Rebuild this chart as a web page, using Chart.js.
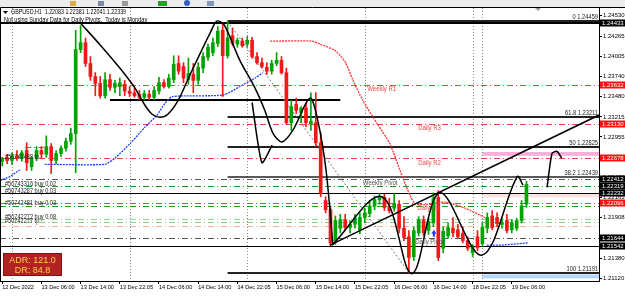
<!DOCTYPE html>
<html>
<head>
<meta charset="utf-8">
<script src="https://cdn.jsdelivr.net/npm/chart.js@4.4.0/dist/chart.umd.min.js"></script>
<style>
html, body { margin: 0; padding: 0; background: #fff; }
canvas { display: block; }
</style>
</head>
<body>
<canvas id="chart" width="625" height="296"></canvas>
<script>
// GBPUSD H1, oldest bar first (bar 0 = 12 Dec 22:05)
const opens = [1.2264,1.2268,1.2265,1.2271,1.2268,1.2278,1.2257,1.2268,1.2278,1.2273,1.2283,1.2265,1.2274,1.2281,1.2290,1.2300,
  1.2409,1.2418,1.2391,1.2374,1.2365,1.2349,1.2370,1.2360,1.2361,1.2364,1.2355,1.2353,1.2351,1.2347,1.2351,1.2347,1.2355,1.2366,1.2361,1.2370,1.2391,1.2387,1.2370,1.2377,1.2369,1.2385,1.2399,1.2405,1.2417,1.2434,1.2401,
  1.2427,1.2416,1.2420,1.2416,1.2421,1.2400,1.2392,1.2386,1.2381,1.2391,1.2395,1.2379,1.2314,1.2338,1.2327,1.2333,1.2312,1.2314,1.2288,1.2213,1.2201,
  1.2161,1.2177,1.2188,1.2178,1.2182,1.2175,1.2191,1.2196,1.2206,1.2214,1.2217,1.2205,1.2203,1.2208,1.2177,1.2166,1.2140,1.2171,1.2188,1.2174,1.2184,1.2217,
  1.2151,1.2167,1.2177,1.2175,1.2170,1.2161,1.2145,1.2166,1.2157,1.2177,1.2193,1.2191,1.2182,1.2187,1.2175,1.2177,1.2187,1.22083];
const highs = [1.2269,1.2273,1.2275,1.2278,1.2278,1.2288,1.2270,1.2283,1.2283,1.2297,1.2287,1.2278,1.2284,1.2294,1.2307,1.2434,
  1.2440,1.2424,1.2400,1.2379,1.2374,1.2379,1.2377,1.2369,1.2372,1.2369,1.2361,1.2359,1.2356,1.2356,1.2356,1.2361,1.2373,1.2370,1.2377,1.2401,1.2401,1.2392,1.2398,1.2391,1.2392,1.2405,1.2416,1.2424,1.2439,1.2444,1.24459,
  1.2437,1.2424,1.2424,1.2426,1.2425,1.2405,1.2398,1.2392,1.2395,1.2405,1.2400,1.2385,1.2343,1.2346,1.2335,1.2340,1.2353,1.2353,1.2301,1.2218,1.2206,
  1.2193,1.2195,1.2195,1.2187,1.2195,1.2197,1.2203,1.2213,1.2219,1.2222,1.2221,1.2216,1.2222,1.2213,1.2192,1.2174,1.2179,1.2192,1.2193,1.2190,1.2223,1.2226,
  1.2179,1.2184,1.2191,1.2182,1.2179,1.2166,1.2156,1.2174,1.2184,1.2197,1.2200,1.2197,1.2190,1.2195,1.2188,1.2190,1.2213,1.22381];
const lows = [1.2258,1.2261,1.2260,1.2265,1.2264,1.2252,1.2252,1.2265,1.2268,1.2269,1.2248,1.2261,1.2270,1.2277,1.2286,1.2249,
  1.2405,1.2387,1.2369,1.2349,1.2346,1.2346,1.2356,1.2353,1.2349,1.2349,1.2348,1.2347,1.2344,1.2344,1.2344,1.2344,1.2351,1.2359,1.2359,1.2366,1.2377,1.2366,1.2364,1.2353,1.2364,1.2379,1.2395,1.2401,1.2413,1.2348,1.2398,
  1.2414,1.2412,1.2412,1.2413,1.2398,1.2390,1.2385,1.2377,1.2377,1.2388,1.2377,1.2312,1.2304,1.2326,1.2314,1.2309,1.2304,1.2283,1.2218,1.2197,1.21542,
  1.2156,1.2171,1.2174,1.2171,1.2177,1.2170,1.2184,1.2192,1.2201,1.2208,1.2200,1.2197,1.2199,1.2171,1.2161,1.21191,1.2135,1.2167,1.2167,1.2169,1.2179,1.2135,
  1.2145,1.2164,1.2166,1.2164,1.2158,1.2148,1.2140,1.2148,1.2153,1.2171,1.2175,1.2179,1.2177,1.2171,1.2171,1.2174,1.2184,1.22041];
const closes = [1.2268,1.2265,1.2271,1.2269,1.2275,1.2262,1.2268,1.2278,1.2273,1.2283,1.2265,1.2274,1.2281,1.2290,1.2300,1.2409,
  1.2418,1.2391,1.2374,1.2365,1.2349,1.2370,1.2360,1.2365,1.2366,1.2355,1.2352,1.2349,1.2347,1.2352,1.2347,1.2356,1.2366,1.2361,1.2372,1.2390,1.2381,1.2372,1.2378,1.2369,1.2386,1.2400,1.2412,1.2418,1.2433,1.2401,1.2424,
  1.2417,1.2421,1.2414,1.2421,1.2400,1.2392,1.2387,1.2381,1.2391,1.2395,1.2379,1.2314,1.2335,1.2330,1.2333,1.2314,1.2316,1.2288,1.2222,1.2201,1.2158,
  1.2187,1.2188,1.2178,1.2182,1.2190,1.2191,1.2197,1.2206,1.2214,1.2218,1.2204,1.2200,1.2209,1.2177,1.2165,1.2139,1.2174,1.2188,1.2171,1.2186,1.2216,1.2139,
  1.2173,1.2178,1.2171,1.2166,1.2161,1.2151,1.2153,1.2152,1.2178,1.2191,1.2178,1.2183,1.2184,1.2174,1.2184,1.2187,1.2206,1.22339];

const timeLabels = ['12 Dec 2022','13 Dec 06:00','13 Dec 14:00','13 Dec 22:05','14 Dec 06:00','14 Dec 14:00','14 Dec 22:05',
  '15 Dec 06:00','15 Dec 14:00','15 Dec 22:05','16 Dec 06:00','16 Dec 14:00','18 Dec 22:05','19 Dec 06:00'];
const timeLabelBars = [0,8,16,24,32,40,48,56,64,72,80,88,96,104];
const separatorBars = [2,26,50,74,96,98];
const priceTicks = [1.24530,1.24265,1.24005,1.23740,1.23480,1.23215,1.22955,1.22690,1.22430,1.22165,1.21908,1.21645,1.21380,1.21120];

// horizontal lines on the chart
const levelPrices = [1.24433,1.23632,1.2344,1.23130,1.22678,1.22412,1.22319,1.22232,1.22096,1.2206,1.2189,1.2185,1.2180,1.21644,1.21542,1.2282];
const levelKinds  = ['black2','red','black2','red','red','gray','green','black','red','green','lgreen','lgreen','orange','gray','black','red'];
const levelFrom   = [null,null,22,null,null,null,null,null,null,null,null,null,null,null,null,4.7];
const levelTo     = [null,null,69,null,null,null,null,null,null,null,null,null,null,null,null,8.7];

// fibonacci retracement
const fibRatios = ['0','38.2','50','61.8','100'];
const fibPrices = [1.24459,1.22439,1.22825,1.23211,1.21191];
const fibFromBar = 46;
const fibToBar = 83;

// rectangles (bar from, price low, price high)
const zoneBars = [98,98,98];
const zoneLow  = [1.2271,1.2217,1.2112];
const zoneHigh = [1.2276,1.2222,1.2117];

// pivot labels
const pivotNames  = ['Weekly R1','Daily R3','Daily R2','Weekly Pivot','Daily R1','Daily Pivot'];
const pivotPrices = [1.23632,1.23130,1.22678,1.22412,1.22096,1.21644];
const pivotBars   = [74.5,84.9,84.9,73.6,84.7,84.3];

// order labels
const orderNames  = ['#50742488 tp','#50743316 buy 0.02','#50743287 buy 0.03','#50742481 buy 0.03','#50742272 buy 0.08','#50742277 tp'];
const orderPrices = [1.2270,1.2235,1.2225,1.2210,1.2192,1.2186];

// price-axis boxes
const boxPrices = [1.24433,1.23632,1.23130,1.22678,1.22412,1.22319,1.22232,1.22096,1.21644,1.21542];
const boxKinds  = ['black','red','red','red','black','black','black','red','black','black'];

// hand drawn objects: [bar, price]
const swingCurve = [[15.9,1.2444],[20.0,1.2415],[24.0,1.2385],[27.1,1.2359],[29.1,1.2337],[30.6,1.2325],[32.2,1.2321],[33.8,1.2325],
  [35.9,1.2343],[38.3,1.2376],[40.4,1.2404],[42.4,1.2430],[43.8,1.2446],[45.3,1.2441],[48.5,1.2395],[51.6,1.2359],[53.6,1.2330],
  [55.3,1.2300],[57.1,1.2289],[59.3,1.2304],[62.8,1.2346],[64.4,1.2317],[66.1,1.2252],[67.5,1.2155]];
const smallV = [[51.0,1.2340],[53.0,1.2262],[55.1,1.2285]];
const trendLine = [[66.9,1.2155],[121.8,1.2324]];
const zigzag = [[67.3,1.2155],[77.5,1.2218],[83.6,1.2118],[89.3,1.2223],[97.9,1.2142],[105.1,1.2244],[106.3,1.2233]];
const arrowUp = [[111.2,1.2230],[112.2,1.2274],[113.2,1.2277],[114.2,1.2268]];
const blueA = [[-0.45,1.2239],[1.6,1.2244],[3.6,1.2253]];
const blueB = [[8.7,1.2260],[21.0,1.2260],[23.0,1.2268],[26.1,1.2287],[29.1,1.2308],[31.6,1.2324],[33.2,1.2339],[34.7,1.2348],
  [45.1,1.2350],[48.5,1.2361],[51.6,1.2372],[53.2,1.2379]];
const blueC = [[98.9,1.2155],[101.6,1.2155],[107.3,1.2158]];
const redTrail = [[54.7,1.2420],[63.2,1.2420],[64.9,1.2416],[67.9,1.2408],[70.0,1.2393],[71.6,1.2369],[73.6,1.2343],[76.5,1.2313],
  [79.1,1.2287],[81.8,1.2242],[84.2,1.2209],[86.9,1.2208],[90.4,1.2211],[94.5,1.2203],[98.5,1.2191]];
const buyArrow = [[88.1,1.2170]];

const FONT = 'Liberation Sans, Arial, sans-serif';
const GREEN = '#00a400';
const RED = '#f21818';
const colors = opens.map((o, i) => closes[i] >= o ? GREEN : RED);

const toPts = arr => arr.map(([x, y]) => ({ x, y }));
const lineDs = (pts, color, width, dash, tension) => ({
    type: 'line', data: toPts(pts), borderColor: color, borderWidth: width, borderDash: dash || [],
    pointRadius: 0, tension: tension || 0, fill: false, order: 1
});

const lineStyles = {
    black:  { color: '#000', width: 1, dash: [] },
    black2: { color: '#000', width: 2, dash: [] },
    red:    { color: '#f04040', width: 1, dash: [6, 3, 1, 3] },
    gray:   { color: '#555', width: 1, dash: [6, 3, 1, 3] },
    green:  { color: '#1c9a1c', width: 1, dash: [6, 3, 1, 3] },
    lgreen: { color: '#92d092', width: 1, dash: [6, 3, 1, 3] },
    orange: { color: '#f6b48c', width: 1, dash: [6, 3, 1, 3] }
};

// MT4 uses a narrow UI font, so squeeze text horizontally
function text(ctx, str, x, y, size, color, align, squeeze) {
    ctx.save();
    ctx.translate(x, y);
    ctx.scale(squeeze || 1, 1);
    ctx.font = size + 'px ' + FONT;
    ctx.fillStyle = color;
    ctx.textAlign = align || 'left';
    ctx.textBaseline = 'middle';
    ctx.fillText(str, 0, 0);
    ctx.restore();
}

const mt4 = {
    id: 'mt4',
    beforeDraw(chart) {
        const ctx = chart.ctx;
        ctx.save();
        ctx.fillStyle = '#ececec';
        ctx.fillRect(0, 0, 625, 7);
        ctx.fillStyle = '#d8b040'; ctx.fillRect(70, 1, 6, 5);
        ctx.fillStyle = '#7a8aa8'; ctx.fillRect(98, 1, 6, 5);
        ctx.fillStyle = '#9a9a9a'; ctx.fillRect(122, 1, 6, 5);
        ctx.fillStyle = '#22a022'; ctx.fillRect(158, 1, 9, 5);
        ctx.fillStyle = '#3060c0'; ctx.beginPath(); ctx.arc(187, 3, 3, 0, Math.PI * 2); ctx.fill();
        ctx.fillStyle = '#8098c0'; ctx.fillRect(207, 1, 7, 5);
        ctx.restore();
    },
    beforeDatasetsDraw(chart) {
        const { ctx, chartArea: a, scales: { x, y } } = chart;
        ctx.save();
        ctx.beginPath(); ctx.rect(a.left, a.top, a.right - a.left, a.bottom - a.top); ctx.clip();
        // zones
        const zoneColors = ['#ffb0da', '#ffe2e2', '#b4d6fa'];
        zoneBars.forEach((b, i) => {
            const x0 = x.getPixelForValue(b), y0 = y.getPixelForValue(zoneHigh[i]), y1 = y.getPixelForValue(zoneLow[i]);
            ctx.fillStyle = zoneColors[i];
            ctx.fillRect(x0, y0, a.right - x0, y1 - y0);
        });
        // day separators
        ctx.strokeStyle = '#8c8c8c'; ctx.lineWidth = 1; ctx.setLineDash([1, 2]);
        separatorBars.forEach(b => {
            const px = Math.round(x.getPixelForValue(b)) + 0.5;
            ctx.beginPath(); ctx.moveTo(px, a.top); ctx.lineTo(px, a.bottom); ctx.stroke();
        });
        // levels
        levelPrices.forEach((p, i) => {
            const st = lineStyles[levelKinds[i]];
            const py = st.width === 2 ? Math.round(y.getPixelForValue(p)) : Math.round(y.getPixelForValue(p)) + 0.5;
            const x0 = levelFrom[i] === null ? a.left : x.getPixelForValue(levelFrom[i]);
            const x1 = levelTo[i] === null ? a.right : x.getPixelForValue(levelTo[i]);
            ctx.strokeStyle = st.color; ctx.lineWidth = st.width; ctx.setLineDash(st.dash);
            ctx.beginPath(); ctx.moveTo(x0, py); ctx.lineTo(x1, py); ctx.stroke();
        });
        // fibo
        ctx.setLineDash([]);
        fibPrices.forEach((p, i) => {
            const py = Math.round(y.getPixelForValue(p));
            ctx.strokeStyle = '#222'; ctx.lineWidth = i === 1 ? 1.5 : 2;
            ctx.beginPath(); ctx.moveTo(x.getPixelForValue(fibFromBar), py); ctx.lineTo(a.right, py); ctx.stroke();
        });
        ctx.strokeStyle = '#777'; ctx.lineWidth = 1; ctx.setLineDash([2, 2]);
        ctx.beginPath();
        ctx.moveTo(x.getPixelForValue(fibFromBar), y.getPixelForValue(fibPrices[0]));
        ctx.lineTo(x.getPixelForValue(fibToBar), y.getPixelForValue(fibPrices[4]));
        ctx.stroke();
        ctx.restore();
    },
    afterDraw(chart) {
        const { ctx, chartArea: a, scales: { x, y } } = chart;
        ctx.save();
        // frame
        ctx.strokeStyle = '#000'; ctx.lineWidth = 1;
        ctx.beginPath(); ctx.moveTo(0.5, a.bottom); ctx.lineTo(0.5, 7.5); ctx.lineTo(625, 7.5); ctx.stroke();
        // shift marker
        ctx.fillStyle = '#999';
        ctx.beginPath(); ctx.moveTo(535, 8); ctx.lineTo(541, 8); ctx.lineTo(538, 11); ctx.closePath(); ctx.fill();
        // header
        ctx.fillStyle = '#000';
        ctx.beginPath(); ctx.moveTo(3, 11); ctx.lineTo(8, 11); ctx.lineTo(5.5, 14); ctx.closePath(); ctx.fill();
        const last = opens.length - 1;
        text(ctx, 'GBPUSD,H1  ' + [opens[last], highs[last], lows[last], closes[last]].map(v => v.toFixed(5)).join(' '), 11, 12.5, 7, '#000', 'left', 0.76);
        text(ctx, 'Not using Sunday Data for Daily Pivots.  Today is Monday', 4, 20, 7, '#000', 'left', 0.8);
        // fib labels
        fibRatios.forEach((r, i) => {
            text(ctx, r + ' ' + fibPrices[i].toFixed(5), a.right - 1, y.getPixelForValue(fibPrices[i]) - 4, 6.5, '#222', 'right', 0.88);
        });
        // pivot labels
        pivotNames.forEach((n, i) => {
            const col = n.indexOf('Pivot') >= 0 ? '#555' : '#e84848';
            text(ctx, n, x.getPixelForValue(pivotBars[i]), y.getPixelForValue(pivotPrices[i]) + 4.5, 7, col, 'left', 0.86);
        });
        // order labels
        orderNames.forEach((n, i) => {
            text(ctx, n, 5, y.getPixelForValue(orderPrices[i]), 7, '#222', 'left', 0.8);
        });
        // buy arrow
        buyArrow.forEach(([b, p]) => {
            const px = x.getPixelForValue(b), py = y.getPixelForValue(p);
            ctx.fillStyle = '#1030ff';
            ctx.beginPath(); ctx.moveTo(px, py - 4); ctx.lineTo(px - 2.5, py); ctx.lineTo(px + 2.5, py); ctx.closePath(); ctx.fill();
            ctx.fillRect(px - 1, py, 2, 3);
        });
        // price boxes
        boxPrices.forEach((p, i) => {
            const py = Math.round(y.getPixelForValue(p));
            ctx.fillStyle = boxKinds[i] === 'red' ? '#ff1010' : '#000';
            ctx.fillRect(a.right + 1, py - 3.5, 625 - a.right - 1, 7);
            text(ctx, p.toFixed(5), a.right + 3, py + 0.5, 6, '#fff');
        });
        // ADR box
        ctx.fillStyle = '#b22222';
        ctx.fillRect(3, 253, 59, 23);
        ctx.strokeStyle = '#8a1010'; ctx.strokeRect(3.5, 253.5, 58, 22);
        text(ctx, 'ADR: 121.0', 32.5, 260.5, 9, '#ffd24a', 'center');
        text(ctx, 'DR: 84.8', 32.5, 270.5, 9, '#ffd24a', 'center');
        ctx.restore();
    }
};

new Chart(document.getElementById('chart'), {
    type: 'bar',
    data: {
        datasets: [
            lineDs(swingCurve, '#000', 1.5, [], 0.3),
            lineDs(smallV, '#000', 1.5, [], 0.2),
            lineDs(trendLine, '#000', 1.5, [], 0),
            lineDs(zigzag, '#000', 1.5, [], 0.35),
            lineDs(arrowUp, '#000', 1.5, [], 0.2),
            lineDs(blueA, '#2040ff', 1.3, [2, 1], 0),
            lineDs(blueB, '#2040ff', 1.3, [2, 1], 0.2),
            lineDs(blueC, '#2040ff', 1.3, [2, 1], 0),
            lineDs(redTrail, '#ff3030', 1.3, [2, 1], 0.2),
            {
                type: 'bar', label: 'wick', order: 3, grouped: false, barThickness: 1,
                data: lows.map((l, i) => ({ x: i, y: [l, highs[i]] })),
                backgroundColor: colors
            },
            {
                type: 'bar', label: 'body', order: 2, grouped: false, barThickness: 3, minBarLength: 1,
                data: opens.map((o, i) => ({ x: i, y: [o, closes[i]] })),
                backgroundColor: colors
            }
        ]
    },
    options: {
        responsive: false,
        animation: false,
        layout: { padding: { top: 8, left: 0, right: 0, bottom: 0 } },
        plugins: { legend: { display: false }, tooltip: { enabled: false } },
        scales: {
            x: {
                type: 'linear', min: -0.45, max: 121.8, offset: false,
                afterBuildTicks: s => { s.ticks = timeLabelBars.map(v => ({ value: v })); },
                afterFit: s => { s.height = 15; },
                ticks: {
                    align: 'start', autoSkip: false, maxRotation: 0, padding: 0, color: '#000',
                    font: { size: 5.6, family: FONT },
                    callback: v => timeLabels[timeLabelBars.indexOf(v)]
                },
                grid: { drawOnChartArea: false, offset: false, tickLength: 3, color: '#000' },
                border: { color: '#000' }
            },
            y: {
                position: 'right', min: 1.21085, max: 1.2463,
                afterBuildTicks: s => { s.ticks = priceTicks.map(v => ({ value: v })); },
                afterFit: s => { s.width = 26; },
                ticks: {
                    padding: 1, color: '#000', font: { size: 6, family: FONT },
                    callback: v => v.toFixed(5)
                },
                grid: { drawOnChartArea: false, tickLength: 3, color: '#000' },
                border: { color: '#000' }
            }
        }
    },
    plugins: [mt4]
});
</script>
</body>
</html>
